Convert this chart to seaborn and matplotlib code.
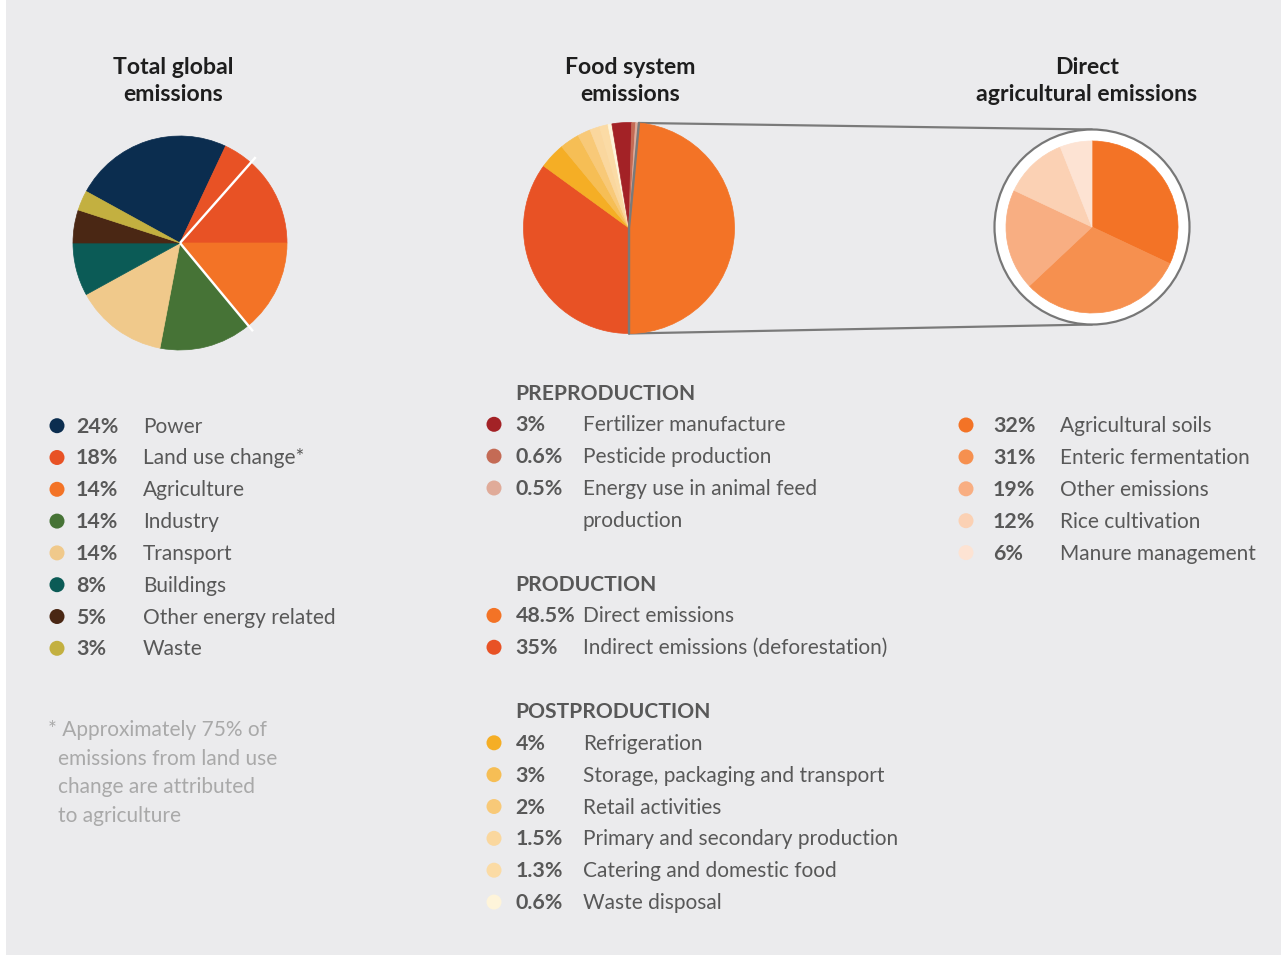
import matplotlib
matplotlib.use("Agg")
import matplotlib.pyplot as plt
from matplotlib.patches import Circle, Rectangle
import numpy as np
import pandas as pd
import seaborn as sns

# ---- Total global emissions ----
global_labels = ["Power", "Land use change*", "Agriculture", "Industry",
                 "Transport", "Buildings", "Other energy related", "Waste"]
global_pct = [24, 18, 14, 14, 14, 8, 5, 3]
global_colors = ["#0b2d4f", "#e85225", "#f37326", "#467336",
                 "#f0c98b", "#0b5b56", "#4a2714", "#c3b040"]
land_use_ag_share = 0.75

# ---- Food system emissions ----
pre_labels = ["Fertilizer manufacture", "Pesticide production",
              "Energy use in animal feed\nproduction"]
pre_pct = [3, 0.6, 0.5]
pre_colors = ["#a32226", "#c46b55", "#e0ab99"]

prod_labels = ["Direct emissions", "Indirect emissions (deforestation)"]
prod_pct = [48.5, 35]
prod_colors = ["#f37326", "#e85225"]

post_labels = ["Refrigeration", "Storage, packaging and transport",
               "Retail activities", "Primary and secondary production",
               "Catering and domestic food", "Waste disposal"]
post_pct = [4, 3, 2, 1.5, 1.3, 0.6]
post_colors = ["#f5ae25", "#f6be55", "#f8c978", "#fad79e", "#fbdba5", "#fef4da"]

# ---- Direct agricultural emissions ----
ag_labels = ["Agricultural soils", "Enteric fermentation", "Other emissions",
             "Rice cultivation", "Manure management"]
ag_pct = [32, 31, 19, 12, 6]
ag_colors = ["#f37326", "#f6904f", "#f8ae82", "#fbd1b4", "#fde3d3"]

titles = ["Total global\nemissions", "Food system\nemissions",
          "Direct\nagricultural emissions"]
footnote = ["* Approximately 75% of", "emissions from land use",
            "change are attributed", "to agriculture"]

# ---------------------------------------------------------------
W, H = 1285, 959
sns.set_theme(style="white")
plt.rcParams["font.family"] = ["Lato", "DejaVu Sans"]

BG = "#ebebed"
TXT = "#585858"
PX = 72 / 100  # points per pixel at dpi=100

fig = plt.figure(figsize=(W / 100, H / 100), dpi=100, facecolor="white")
ax = fig.add_axes([0, 0, 1, 1])
ax.set_facecolor("white")


def Y(py):
    return H - py


def draw_pie(values, colors, start, center, radius):
    wedges, _ = ax.pie(values, colors=colors, startangle=start, counterclock=False,
                       center=center, radius=radius,
                       wedgeprops=dict(linewidth=0.5, zorder=2))
    for w in wedges:
        w.set_edgecolor(w.get_facecolor())
    return wedges


ax.add_patch(Rectangle((6, Y(955)), 1275, 955, facecolor=BG, edgecolor="none", zorder=0))

# ---- pie 1 ----
c1, r1 = (180, Y(243)), 107
start1 = 3.6 * (global_pct[0] + global_pct[1])
draw_pie(global_pct, global_colors, start1, c1, r1)
# white rules bounding the agriculture-related share
for ang in [3.6 * global_pct[1] * land_use_ag_share, -3.6 * global_pct[2]]:
    a = np.deg2rad(ang)
    ax.plot([c1[0], c1[0] + 1.07 * r1 * np.cos(a)],
            [c1[1], c1[1] + 1.07 * r1 * np.sin(a)],
            color="white", lw=2.4 * PX, zorder=5, solid_capstyle="butt")

# ---- pie 2 ----
c2, r2 = (629, Y(228)), 105.5
food_vals = prod_pct + post_pct + pre_pct
food_cols = prod_colors + post_colors + pre_colors
start2 = -90 + 3.6 * prod_pct[0]
draw_pie(food_vals, food_cols, start2, c2, r2)

# ---- pie 3 with ring ----
c3, r3, ring = (1092, Y(227)), 86, 97.5
ax.add_patch(Circle(c3, ring, facecolor="white", edgecolor="#777777",
                    lw=2.2 * PX, zorder=1.5))
draw_pie(ag_pct, ag_colors, 90, c3, r3)

# connector outline from the direct-emissions wedge to the ring
a0 = np.deg2rad(start2)
p_top = (c2[0] + r2 * np.cos(a0), c2[1] + r2 * np.sin(a0))
p_bot = (c2[0], c2[1] - r2)
gray = "#7a7a7a"
ax.plot([p_top[0], c2[0], p_bot[0]], [p_top[1], c2[1], p_bot[1]],
        color=gray, lw=2.4 * PX, zorder=4, solid_joinstyle="miter")
ax.plot([p_top[0], c3[0]], [p_top[1], c3[1] + ring], color=gray, lw=2.2 * PX, zorder=1.4)
ax.plot([p_bot[0], c3[0]], [p_bot[1], c3[1] - ring], color=gray, lw=2.2 * PX, zorder=1.4)

# ---- titles ----
TFS = 16.6
for tx, t in zip([173, 630, 1087], titles):
    l1, l2 = t.split("\n")
    ax.text(tx, Y(73.5), l1, ha="center", va="baseline", fontsize=TFS,
            fontweight="bold", color="#1e1e1e")
    ax.text(tx, Y(101), l2, ha="center", va="baseline", fontsize=TFS,
            fontweight="bold", color="#1e1e1e")

# ---- legends ----
FS = 15
dots = []


def row(dx, px, lx, y, pct, label, color):
    dots.append((dx, Y(y), color))
    ax.text(px, Y(y + 7), f"{pct:g}%", fontsize=FS + 0.4, fontweight="bold",
            color=TXT, va="baseline", ha="left")
    lines = label.split("\n")
    for k, ln in enumerate(lines):
        ax.text(lx, Y(y + 7 + k * 31.85), ln, fontsize=FS, color=TXT,
                va="baseline", ha="left")


# left column
for i, (p, lab, col) in enumerate(zip(global_pct, global_labels, global_colors)):
    row(57, 76, 143, 425.7 + i * 31.8, p, lab, col)

for k, ln in enumerate(footnote):
    ax.text(48 if k == 0 else 58, Y(736.5 + k * 28.4), ln, fontsize=FS,
            color="#a9a9a9", va="baseline", ha="left")

# middle column
slot0, pitch = 424.3, 31.85


def slot(k):
    return slot0 + k * pitch


for name, k in [("PREPRODUCTION", -1), ("PRODUCTION", 5), ("POSTPRODUCTION", 9)]:
    ax.text(515.5, Y(slot(k) + 7.5), name, fontsize=15.1, fontweight="bold",
            color=TXT, va="baseline", ha="left")
for i, (p, lab, col) in enumerate(zip(pre_pct, pre_labels, pre_colors)):
    row(494, 515.5, 583, slot(i), p, lab, col)
for i, (p, lab, col) in enumerate(zip(prod_pct, prod_labels, prod_colors)):
    row(494, 515.5, 583, slot(6 + i), p, lab, col)
for i, (p, lab, col) in enumerate(zip(post_pct, post_labels, post_colors)):
    row(494, 515.5, 583, slot(10 + i), p, lab, col)

# right column
for i, (p, lab, col) in enumerate(zip(ag_pct, ag_labels, ag_colors)):
    row(966, 993, 1060.5, 425 + i * 31.9, p, lab, col)

dot_df = pd.DataFrame(dots, columns=["x", "y", "color"])
dot_df["key"] = [str(i) for i in range(len(dot_df))]
sns.scatterplot(data=dot_df, x="x", y="y", hue="key",
                palette=dict(zip(dot_df["key"], dot_df["color"])),
                s=(15 * PX) ** 2, linewidth=0, legend=False, ax=ax, zorder=6)

ax.set_xlim(0, W)
ax.set_ylim(0, H)
ax.set_aspect("auto")
ax.set_axis_off()

fig.savefig("out.png", dpi=100, facecolor="white")
